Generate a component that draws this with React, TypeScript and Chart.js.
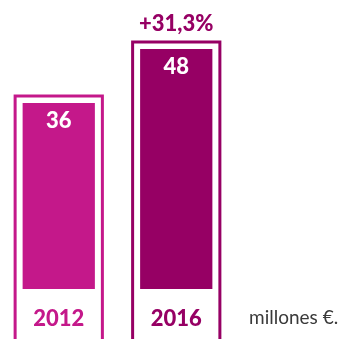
import React, { useEffect, useRef } from "react";
import { Chart, registerables } from "chart.js";

Chart.register(...registerables);

const categories = ["2012", "2016"];
const values = [36, 48];
const barColors = ["#c4188a", "#960064"];
const growthLabel = "+31,3%";
const unitLabel = "millones €.";
const axisBase = -5.33;
const axisMax = 58;

const FONT = "Lato, 'Open Sans', sans-serif";

const framePlugin = {
  id: "frames",
  afterDatasetsDraw(chart: any) {
    const ctx = chart.ctx;
    const meta = chart.getDatasetMeta(0);
    const H = chart.height;
    ctx.save();
    meta.data.forEach((el: any, i: number) => {
      const color = barColors[i];
      const w = el.width;
      ctx.strokeStyle = color;
      ctx.lineWidth = 3;
      const top = el.y - 7;
      ctx.strokeRect(el.x - w / 2 - 7.5, top, w + 15, H + 10 - top);
      ctx.fillStyle = "#ffffff";
      ctx.font = `900 22px ${FONT}`;
      ctx.textAlign = "center";
      ctx.textBaseline = "middle";
      ctx.fillText(String(values[i]), el.x, el.y + 17.5);
      ctx.fillStyle = color;
      ctx.fillText(categories[i], el.x, el.base + 29.5);
      if (i === meta.data.length - 1) {
        ctx.fillText(growthLabel, el.x, el.y - 25);
      }
    });
    const last = meta.data[meta.data.length - 1];
    ctx.fillStyle = "#3a3a3a";
    ctx.font = `19px ${FONT}`;
    ctx.textAlign = "left";
    ctx.textBaseline = "alphabetic";
    ctx.fillText(unitLabel, chart.chartArea.right + 14, last.base + 35);
    ctx.restore();
  },
};

export default function App() {
  const ref = useRef<HTMLCanvasElement>(null);
  useEffect(() => {
    if (!ref.current) return;
    const chart = new Chart(ref.current, {
      type: "bar",
      data: {
        labels: categories,
        datasets: [
          {
            data: values,
            backgroundColor: barColors,
            base: axisBase,
            categoryPercentage: 1,
            barPercentage: 0.615,
            borderWidth: 0,
          } as any,
        ],
      },
      options: {
        animation: false,
        responsive: true,
        maintainAspectRatio: false,
        layout: { padding: { top: 4, bottom: 50, left: 0, right: 106 } },
        plugins: { legend: { display: false }, tooltip: { enabled: false } },
        scales: {
          x: { display: false },
          y: { display: false, min: axisBase, max: axisMax },
        },
      },
      plugins: [framePlugin],
    });
    (document as any).fonts?.load?.(`900 22px Lato`).then(() => chart.update());
    return () => chart.destroy();
  }, []);
  return (
    <div style={{ position: "absolute", left: 0, top: 0, width: 341, height: 339 }}>
      <canvas ref={ref} />
    </div>
  );
}
